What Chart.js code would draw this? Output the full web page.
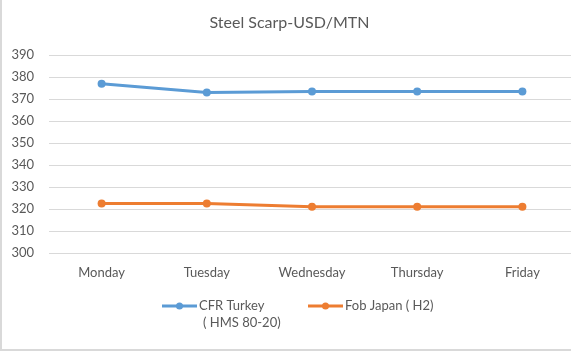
<!DOCTYPE html>
<html>
<head>
<meta charset="utf-8">
<script src="https://cdn.jsdelivr.net/npm/chart.js@4/dist/chart.umd.min.js"></script>
<style>
  html, body { margin: 0; padding: 0; background: #fff; }
  #frame { position: relative; width: 569px; height: 349px; overflow: hidden;
           border-left: 2px solid #d9d9d9; border-bottom: 2px solid #d9d9d9; }
  #box { position: absolute; left: -2px; top: 0; width: 579px; height: 351px; }
</style>
</head>
<body>
<div id="frame"><div id="box"><canvas id="chartJScanvas"></canvas></div></div>
<script>
  var days = ["Monday", "Tuesday", "Wednesday", "Thursday", "Friday"];
  var cfr_turkey = [377, 373, 373.5, 373.5, 373.5];
  var fob_japan = [322.5, 322.5, 321, 321, 321];
  var legend_names = [["CFR Turkey", "( HMS 80-20)"], ["Fob Japan ( H2)"]];
  var y_ticks = [300, 310, 320, 330, 340, 350, 360, 370, 380, 390];

  var grey = "#595959";
  var font_family = "Lato, 'Open Sans', sans-serif";

  // Excel-like legend: line + dot, label may wrap onto two lines
  var excelLegend = {
    id: "excelLegend",
    afterDraw: function (chart) {
      var ctx = chart.ctx;
      var y = chart.height - 45;
      var starts = [162, 308];
      ctx.save();
      ctx.font = "13px " + font_family;
      ctx.textBaseline = "middle";
      chart.data.datasets.forEach(function (ds, i) {
        var x = starts[i];
        ctx.strokeStyle = ds.borderColor;
        ctx.lineWidth = 3;
        ctx.beginPath();
        ctx.moveTo(x, y);
        ctx.lineTo(x + 35, y);
        ctx.stroke();
        ctx.fillStyle = ds.borderColor;
        ctx.beginPath();
        ctx.arc(x + 17.5, y, 3.5, 0, Math.PI * 2);
        ctx.fill();
        ctx.fillStyle = grey;
        legend_names[i].forEach(function (line, j) {
          ctx.fillText(line, x + 37 + j * 4, y + j * 17);
        });
      });
      ctx.restore();
    }
  };

  function initialize_chartJS() {
    var ctx = document.getElementById("chartJScanvas").getContext("2d");
    chartJSchart = new Chart(ctx, {
      type: "line",
      data: {
        labels: days,
        datasets: [{
          label: legend_names[0].join(" "),
          data: cfr_turkey,
          borderColor: "#5b9bd5",
          backgroundColor: "#5b9bd5",
          borderWidth: 3,
          pointRadius: 4,
          pointBorderWidth: 0,
          tension: 0
        }, {
          label: legend_names[1].join(" "),
          data: fob_japan,
          borderColor: "#ed7d31",
          backgroundColor: "#ed7d31",
          borderWidth: 3,
          pointRadius: 4,
          pointBorderWidth: 0,
          tension: 0
        }]
      },
      options: {
        responsive: true,
        maintainAspectRatio: false,
        animation: false,
        layout: { padding: { left: 0, right: 0, top: 0, bottom: 70 } },
        plugins: {
          legend: { display: false },
          tooltip: { enabled: false },
          title: {
            display: true,
            text: "Steel Scarp-USD/MTN",
            color: grey,
            font: { family: font_family, size: 16, weight: "normal" },
            padding: { top: 13, bottom: 23 }
          }
        },
        scales: {
          x: {
            offset: true,
            grid: { display: false, drawTicks: false },
            border: { display: false },
            ticks: { color: grey, padding: 12, font: { family: font_family, size: 13 } },
            afterFit: function (s) { s.height = 28; }
          },
          y: {
            min: 300,
            max: 390,
            afterBuildTicks: function (s) {
              s.ticks = y_ticks.map(function (v) { return { value: v }; });
            },
            grid: { color: "#d9d9d9", lineWidth: 1, drawTicks: false },
            border: { display: false },
            ticks: { color: grey, padding: 15, font: { family: font_family, size: 13 } },
            afterFit: function (s) { s.width = 49; }
          }
        }
      },
      plugins: [excelLegend]
    });
  }

  initialize_chartJS();
</script>
</body>
</html>
